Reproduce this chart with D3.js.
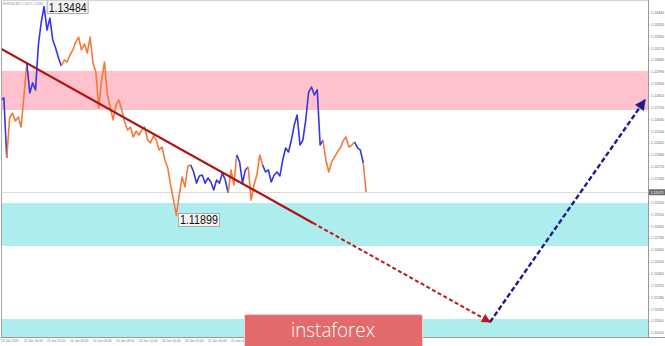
<!DOCTYPE html>
<html>
<head>
<meta charset="utf-8">
<title>EURUSD wave chart</title>
<script src="https://d3js.org/d3.v7.min.js"></script>
<style>
  body { margin: 0; background: #fff; }
  svg { display: block; font-family: "Liberation Sans", Arial, sans-serif; }
</style>
</head>
<body>
<div id="chart"></div>
<script>
// chart data (half-hour closes from 23 Jun 12:00)
const symbolTitle = 'EURUSD,M15 1.12075 1.12082';
const closes = [
  1.12775, 1.12790, 1.12335, 1.12638, 1.12676, 1.12615, 1.12646, 1.12570, 1.12813, 1.13055,
  1.12828, 1.12904, 1.12851, 1.13192, 1.13366, 1.13484, 1.13305, 1.13396, 1.13230, 1.13169,
  1.13093, 1.13032, 1.13078, 1.13063, 1.13116, 1.13154, 1.13214, 1.13252, 1.13154, 1.13199,
  1.13131, 1.13252, 1.13055, 1.12987, 1.12714, 1.12926, 1.13063, 1.12813, 1.12721, 1.12623,
  1.12737, 1.12775, 1.12699, 1.12608, 1.12547, 1.12570, 1.12494, 1.12539, 1.12509, 1.12547,
  1.12570, 1.12471, 1.12449, 1.12502, 1.12471, 1.12395, 1.12418, 1.12320, 1.12259, 1.12130,
  1.12015, 1.11899, 1.12054, 1.12191, 1.12115, 1.12274, 1.12282, 1.12229, 1.12144, 1.12198,
  1.12206, 1.12144, 1.12183, 1.12153, 1.12092, 1.12168, 1.12144, 1.12221, 1.12168, 1.12069,
  1.12244, 1.12130, 1.12357, 1.12304, 1.12144, 1.12244, 1.12266, 1.12015, 1.12130, 1.12206,
  1.12357, 1.12282, 1.12229, 1.12244, 1.12153, 1.12206, 1.12229, 1.12198, 1.12320, 1.12411,
  1.12380, 1.12471, 1.12585, 1.12661, 1.12433, 1.12471, 1.12623, 1.12835, 1.12873, 1.12813,
  1.12851, 1.12433, 1.12471, 1.12320, 1.12229, 1.12304, 1.12342, 1.12380, 1.12411, 1.12464,
  1.12494, 1.12418, 1.12433, 1.12456, 1.12411, 1.12395, 1.12297, 1.12075
];
// index where each wave begins, colours alternate
const waveStarts = [0, 2, 9, 21, 66, 79, 82, 86, 91, 112, 123, 126];
const waveColors = ['#3535e6', '#f47a3a'];

const resistanceZone = [1.12699, 1.12995];
const supportZones = [[1.11667, 1.11993], [1.10962, 1.11114]];

// [bar index, price]
const trendLine = [[-0.4, 1.13169], [108.5, 1.11842]];
const forecastDown = [[108.5, 1.11842], [170.1, 1.11091]];
const forecastUp = [[170.1, 1.11091], [224, 1.12775]];

const extremes = [{ i: 15, p: 1.13484, kind: 'high' }, { i: 61, p: 1.11899, kind: 'low' }];
const lastPrice = 1.12075;

const priceTicks = [
  1.13440, 1.13350, 1.13260, 1.13170, 1.13080, 1.12990, 1.12900, 1.12810, 1.12720, 1.12630,
  1.12540, 1.12450, 1.12360, 1.12270, 1.12180, 1.12090, 1.12000, 1.11910, 1.11820, 1.11730,
  1.11640, 1.11550, 1.11460, 1.11370, 1.11280, 1.11190, 1.11100, 1.11010
];
// only the labels left of the logo are visible
const timeLabels = [
  '23 Jun 2020', '23 Jun 16:00', '23 Jun 20:00', '24 Jun 00:00', '24 Jun 04:00', '24 Jun 08:00',
  '24 Jun 12:00', '24 Jun 16:00', '24 Jun 20:00', '25 Jun 00:00', '25 Jun 04:00'
];

const width = 665, height = 346;
const plotRight = 648, plotBottom = 337;

const x = d3.scaleLinear().domain([0, 224]).range([1, 645]);
const y = d3.scaleLinear().domain([1.10962, 1.13533]).range([339, 0]);

const svg = d3.select('#chart').append('svg')
  .attr('width', width)
  .attr('height', height);

const defs = svg.append('defs');
defs.append('clipPath').attr('id', 'plot')
  .append('rect').attr('x', 1).attr('y', 0).attr('width', plotRight - 1).attr('height', plotBottom);

const arrow = (id, color) => {
  defs.append('marker')
    .attr('id', id)
    .attr('viewBox', '0 0 10 10')
    .attr('refX', 9).attr('refY', 5)
    .attr('markerWidth', 5).attr('markerHeight', 4.5)
    .attr('markerUnits', 'strokeWidth')
    .attr('orient', 'auto')
    .append('path')
      .attr('d', 'M0,0 L10,5 L0,10 Z')
      .attr('fill', color);
};
arrow('head-red', '#c41414');
arrow('head-blue', '#1c1c8c');

const plot = svg.append('g').attr('clip-path', 'url(#plot)');

// zones
plot.append('rect')
  .attr('x', 1).attr('width', plotRight - 1)
  .attr('y', y(resistanceZone[1]))
  .attr('height', y(resistanceZone[0]) - y(resistanceZone[1]))
  .attr('fill', '#ffc1cc');

plot.selectAll('rect.support').data(supportZones).enter()
  .append('rect')
    .attr('class', 'support')
    .attr('x', 1).attr('width', plotRight - 1)
    .attr('y', d => y(d[1]))
    .attr('height', d => y(d[0]) - y(d[1]))
    .attr('fill', '#aeeded');

// bid line
plot.append('line')
  .attr('x1', 1).attr('x2', plotRight)
  .attr('y1', Math.round(y(lastPrice)) + 0.5).attr('y2', Math.round(y(lastPrice)) + 0.5)
  .attr('stroke', '#dcdcdc').attr('stroke-width', 1);

// price line, one path per wave
const line = d3.line().x(d => x(d.i)).y(d => y(d.p));
const pts = closes.map((p, i) => ({ i, p }));
waveStarts.forEach((s, k) => {
  const e = k + 1 < waveStarts.length ? waveStarts[k + 1] : closes.length - 1;
  plot.append('path')
    .datum(pts.slice(s, e + 1))
    .attr('d', line)
    .attr('fill', 'none')
    .attr('stroke', waveColors[k % 2])
    .attr('stroke-width', 1.6)
    .attr('stroke-linejoin', 'round');
});

// trend line and forecast arrows
const seg = d => line(d.map(([i, p]) => ({ i, p })));
plot.append('path')
  .attr('d', seg(trendLine))
  .attr('fill', 'none').attr('stroke', '#b01212').attr('stroke-width', 2.2);
plot.append('path')
  .attr('d', seg(forecastDown))
  .attr('fill', 'none').attr('stroke', '#c41414').attr('stroke-width', 2)
  .attr('stroke-dasharray', '4,2.5')
  .attr('marker-end', 'url(#head-red)');
plot.append('path')
  .attr('d', seg(forecastUp))
  .attr('fill', 'none').attr('stroke', '#1c1c8c').attr('stroke-width', 2.4)
  .attr('stroke-dasharray', '5,2.5')
  .attr('marker-end', 'url(#head-blue)');

// title (behind the extreme labels)
svg.append('text')
  .attr('x', 3).attr('y', 4.5)
  .attr('font-size', 3.2).attr('fill', '#888')
  .attr('textLength', 40).attr('lengthAdjust', 'spacingAndGlyphs')
  .text(symbolTitle);

// extreme labels
extremes.forEach(d => {
  const bx = x(d.i) + (d.kind === 'high' ? 3 : 2);
  const by = d.kind === 'high' ? Math.max(0.5, y(d.p) - 7) : y(d.p) - 2;
  const g = svg.append('g');
  g.append('rect')
    .attr('x', bx).attr('y', by).attr('width', 41).attr('height', 13)
    .attr('fill', '#f3f3f3').attr('stroke', '#9a9a9a').attr('stroke-width', 0.8);
  g.append('text')
    .attr('x', bx + 1.5).attr('y', by + 11)
    .attr('font-size', 12.5)
    .attr('textLength', 38).attr('lengthAdjust', 'spacingAndGlyphs')
    .attr('fill', '#111')
    .text(d.p.toFixed(5));
});

// frame
svg.append('line').attr('x1', 1.5).attr('x2', 1.5).attr('y1', 0).attr('y2', plotBottom)
  .attr('stroke', '#a8a8a8');
svg.append('line').attr('x1', 1).attr('x2', plotRight).attr('y1', 0.5).attr('y2', 0.5)
  .attr('stroke', '#d4d4d4');
svg.append('line').attr('x1', plotRight + 0.5).attr('x2', plotRight + 0.5).attr('y1', 0).attr('y2', plotBottom)
  .attr('stroke', '#9a9a9a');
svg.append('line').attr('x1', 1).attr('x2', width).attr('y1', plotBottom + 0.5).attr('y2', plotBottom + 0.5)
  .attr('stroke', '#9a9a9a');

// right price axis; the tick under the bid box is covered by it
const bidY = y(lastPrice);
const axisG = svg.append('g')
  .attr('transform', `translate(${plotRight},0)`)
  .call(d3.axisRight(y)
    .tickValues(priceTicks.filter(t => Math.abs(y(t) - bidY) > 4))
    .tickSize(1.5).tickPadding(1.5)
    .tickFormat(d => d.toFixed(5)));
axisG.select('.domain').remove();
axisG.selectAll('line').attr('stroke', '#9a9a9a');
axisG.selectAll('text').attr('font-size', 3.6).attr('fill', '#666').attr('font-family', '"Liberation Sans", Arial, sans-serif');

// bid box
svg.append('rect')
  .attr('x', plotRight + 1).attr('y', bidY - 3)
  .attr('width', width - plotRight - 1).attr('height', 6)
  .attr('fill', '#6b6b6b');
svg.append('text')
  .attr('x', plotRight + 2.5).attr('y', bidY + 1.3)
  .attr('font-size', 3.6).attr('fill', '#fff')
  .text(lastPrice.toFixed(5));

// time labels
svg.append('g').selectAll('text').data(timeLabels).enter()
  .append('text')
    .attr('x', (d, k) => x(k * 8))
    .attr('y', plotBottom + 5)
    .attr('font-size', 3.2)
    .attr('fill', '#777')
    .text(d => d);

// logo
const logo = svg.append('g');
logo.append('rect')
  .attr('x', 244.5).attr('y', 314.5).attr('width', 178).attr('height', 40).attr('rx', 2)
  .attr('fill', '#e36a6a').attr('stroke', '#f6cfcf').attr('stroke-width', 1);
logo.append('text')
  .attr('x', 333).attr('y', 336.5)
  .attr('text-anchor', 'middle')
  .attr('font-family', '"Open Sans", sans-serif').attr('font-weight', 300)
  .attr('font-size', 21)
  .attr('textLength', 84).attr('lengthAdjust', 'spacingAndGlyphs')
  .attr('fill', '#fff')
  .text('instaforex');
</script>
</body>
</html>
